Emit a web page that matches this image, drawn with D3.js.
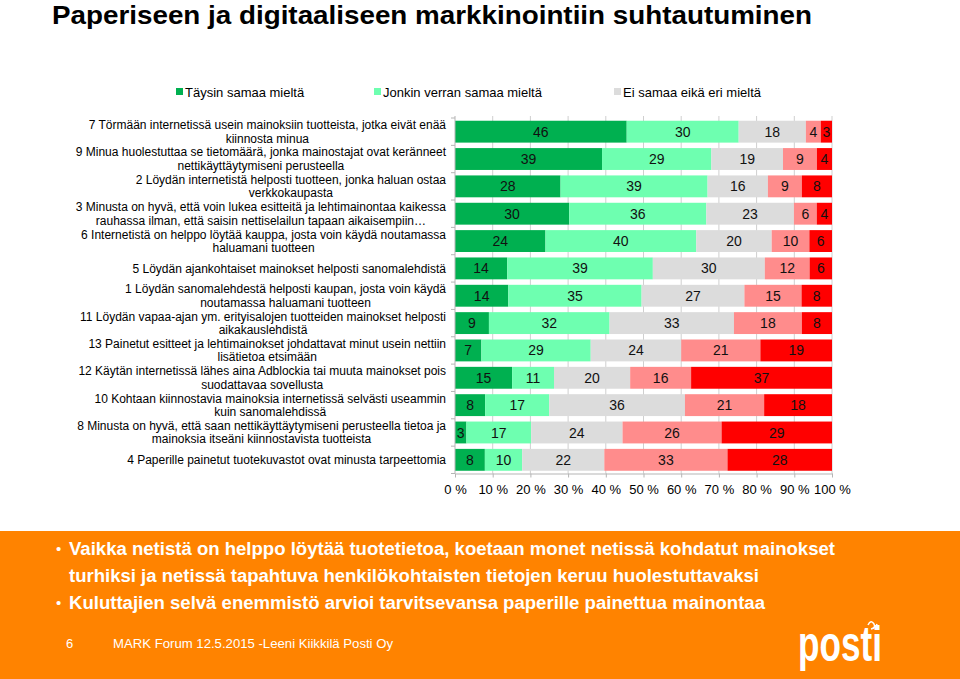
<!DOCTYPE html>
<html>
<head>
<meta charset="utf-8">
<script src="https://cdn.jsdelivr.net/npm/d3@7"></script>
<style>
  html, body { margin: 0; padding: 0; background: #fff; }
  svg { display: block; }
  text { font-family: "Liberation Sans", Arial, sans-serif; }
</style>
</head>
<body>
<svg id="chart" width="960" height="679"></svg>
<script>
// ---------- DATA ----------
const categories = [
  "7 Törmään internetissä usein mainoksiin tuotteista, jotka eivät enää|kiinnosta minua",
  "9 Minua huolestuttaa se tietomäärä, jonka mainostajat ovat keränneet|nettikäyttäytymiseni perusteella",
  "2 Löydän internetistä helposti tuotteen, jonka haluan ostaa|verkkokaupasta",
  "3 Minusta on hyvä, että voin lukea esitteitä ja lehtimainontaa kaikessa|rauhassa ilman, että saisin nettiselailun tapaan aikaisempiin…",
  "6 Internetistä on helppo löytää kauppa, josta voin käydä noutamassa|haluamani tuotteen",
  "5 Löydän ajankohtaiset mainokset helposti sanomalehdistä",
  "1 Löydän sanomalehdestä helposti kaupan, josta voin käydä|noutamassa haluamani tuotteen",
  "11 Löydän vapaa-ajan ym. erityisalojen tuotteiden mainokset helposti|aikakauslehdistä",
  "13 Painetut esitteet ja lehtimainokset johdattavat minut usein nettiin|lisätietoa etsimään",
  "12 Käytän internetissä lähes aina Adblockia tai muuta mainokset pois|suodattavaa sovellusta",
  "10 Kohtaan kiinnostavia mainoksia internetissä selvästi useammin|kuin sanomalehdissä",
  "8 Minusta on hyvä, että saan nettikäyttäytymiseni perusteella tietoa ja|mainoksia itseäni kiinnostavista tuotteista",
  "4 Paperille painetut tuotekuvastot ovat minusta tarpeettomia"
];
const seriesNames = ["Täysin samaa mieltä", "Jonkin verran samaa mieltä", "Ei samaa eikä eri mieltä", "Jonkin verran eri mieltä", "Täysin eri mieltä"];
const taysinSamaa   = [46, 39, 28, 30, 24, 14, 14,  9,  7, 15,  8,  3,  8];
const jonkinSamaa   = [30, 29, 39, 36, 40, 39, 35, 32, 29, 11, 17, 17, 10];
const eiSamaaEiEri  = [18, 19, 16, 23, 20, 30, 27, 33, 24, 20, 36, 24, 22];
const jonkinEri     = [ 4,  9,  9,  6, 10, 12, 15, 18, 21, 16, 21, 26, 33];
const taysinEri     = [ 3,  4,  8,  4,  6,  6,  8,  8, 19, 37, 18, 29, 28];
const xTickLabels = ["0 %", "10 %", "20 %", "30 %", "40 %", "50 %", "60 %", "70 %", "80 %", "90 %", "100 %"];
const legendShown = 3;
const titleText = "Paperiseen ja digitaaliseen markkinointiin suhtautuminen";
const bullets = [
  ["Vaikka netistä on helppo löytää tuotetietoa, koetaan monet netissä kohdatut mainokset",
   "turhiksi ja netissä tapahtuva henkilökohtaisten tietojen keruu huolestuttavaksi"],
  ["Kuluttajien selvä enemmistö arvioi tarvitsevansa paperille painettua mainontaa"]
];
const footerPage = "6";
const footerText = "MARK Forum 12.5.2015 -Leeni Kiikkilä Posti Oy";

// ---------- SETUP ----------
const colors = ["#00B050", "#6EFFB0", "#DCDCDC", "#FF8C8C", "#FF0000"];
const seriesArrays = [taysinSamaa, jonkinSamaa, eiSamaaEiEri, jonkinEri, taysinEri];
const rows = categories.map((c, i) => {
  const r = { key: i, label: c };
  seriesNames.forEach((s, j) => r[s] = seriesArrays[j][i]);
  return r;
});

const svg = d3.select("#chart");
const W = 960, H = 679;
const plot = { left: 455, right: 832, top: 118, bottom: 473.5 };

const x = d3.scaleLinear().domain([0, 1]).range([plot.left, plot.right]);
const y = d3.scaleBand().domain(rows.map(r => r.key)).range([plot.top, plot.bottom])
  .paddingInner(0.2).paddingOuter(0.1);

// Title
svg.append("text")
  .attr("x", 52).attr("y", 24)
  .attr("font-size", 26).attr("font-weight", "bold")
  .attr("textLength", 760).attr("lengthAdjust", "spacingAndGlyphs")
  .attr("fill", "#000")
  .text(titleText);

// Legend
const legendX = [176, 374, 614];
seriesNames.slice(0, legendShown).forEach((s, i) => {
  const g = svg.append("g").attr("transform", `translate(${legendX[i]},92)`);
  g.append("rect").attr("x", 0).attr("y", -4).attr("width", 7).attr("height", 7).attr("fill", colors[i]);
  g.append("text").attr("x", 9).attr("y", 0).attr("dy", "0.35em")
    .attr("font-size", 13).attr("fill", "#000").text(s);
});

// Gridlines
const gridTicks = d3.range(0, 11).map(d => d / 10);
svg.append("g").selectAll("line").data(gridTicks.slice(1)).join("line")
  .attr("x1", d => x(d)).attr("x2", d => x(d))
  .attr("y1", plot.top - 2).attr("y2", plot.bottom)
  .attr("stroke", "#CFCFCF").attr("stroke-width", 1);

// Stack
const stack = d3.stack().keys(seriesNames).offset(d3.stackOffsetExpand);
const stacked = stack(rows);

const layers = svg.append("g").selectAll("g").data(stacked).join("g")
  .attr("fill", (d, i) => colors[i]);
layers.selectAll("rect").data(d => d).join("rect")
  .attr("x", d => x(d[0]))
  .attr("width", d => x(d[1]) - x(d[0]))
  .attr("y", d => y(d.data.key))
  .attr("height", y.bandwidth());

// value labels
const labelsG = svg.append("g");
stacked.forEach((layer, i) => {
  labelsG.selectAll(null).data(layer).join("text")
    .attr("x", d => (x(d[0]) + x(d[1])) / 2)
    .attr("y", d => y(d.data.key) + y.bandwidth() / 2)
    .attr("dy", "0.36em")
    .attr("text-anchor", "middle")
    .attr("font-size", 14)
    .attr("fill", "#111")
    .text(d => d.data[layer.key]);
});

// Y axis (left line + ticks at band boundaries)
const yAxisG = svg.append("g");
yAxisG.append("line").attr("x1", plot.left).attr("x2", plot.left)
  .attr("y1", plot.top - 2).attr("y2", plot.bottom).attr("stroke", "#B5B5B5");
const bounds = rows.map(r => y(r.key) - y.step() * y.paddingInner() / 2);
bounds.push(plot.bottom);
yAxisG.selectAll("line.tk").data(bounds).join("line").attr("class", "tk")
  .attr("x1", plot.left - 4).attr("x2", plot.left)
  .attr("y1", d => d).attr("y2", d => d).attr("stroke", "#B5B5B5");

// X axis
const xAxis = d3.axisBottom(x).tickValues(gridTicks)
  .tickFormat((d, i) => xTickLabels[i]).tickSizeOuter(0).tickSizeInner(4);
const xg = svg.append("g").attr("transform", `translate(0,${plot.bottom})`).call(xAxis);
xg.select(".domain").attr("stroke", "#B5B5B5");
xg.selectAll(".tick line").attr("stroke", "#B5B5B5");
xg.selectAll(".tick text").attr("font-size", 13).attr("fill", "#000")
  .attr("font-family", "Liberation Sans, Arial, sans-serif").attr("y", 11);

// Category labels
const catG = svg.append("g");
rows.forEach(r => {
  const lines = r.label.split("|");
  const cy = y(r.key) + y.bandwidth() / 2;
  const lh = 13.5;
  const t = catG.append("text").attr("font-size", 12).attr("fill", "#000");
  const spans = lines.map((ln, k) => t.append("tspan").text(ln));
  const widths = spans.map(s => s.node().getComputedTextLength());
  const maxW = d3.max(widths);
  const cx = 446 - maxW / 2;
  t.attr("text-anchor", "middle");
  spans.forEach((s, k) => {
    s.attr("x", cx).attr("y", cy + (k - (lines.length - 1) / 2) * lh).attr("dy", "0.35em");
  });
});

// Orange banner
svg.append("rect").attr("x", 0).attr("y", 531).attr("width", W).attr("height", H - 531)
  .attr("fill", "#FF8300");

const bulletLines = [
  { bullet: true, text: bullets[0][0], y: 549, len: 766 },
  { bullet: false, text: bullets[0][1], y: 576, len: 690 },
  { bullet: true, text: bullets[1][0], y: 603, len: 696 }
];
bulletLines.forEach(b => {
  if (b.bullet) {
    svg.append("text").attr("x", 56).attr("y", b.y).attr("dy", "0.35em")
      .attr("font-size", 15).attr("fill", "#fff").text("•");
  }
  svg.append("text").attr("x", 69).attr("y", b.y).attr("dy", "0.35em")
    .attr("font-size", 17.5).attr("font-weight", "bold").attr("fill", "#fff")
    .attr("textLength", b.len).attr("lengthAdjust", "spacingAndGlyphs")
    .text(b.text);
});

// Footer
svg.append("text").attr("x", 66).attr("y", 643).attr("dy", "0.35em")
  .attr("font-size", 13).attr("fill", "#fff").text(footerPage);
svg.append("text").attr("x", 113).attr("y", 643).attr("dy", "0.35em")
  .attr("font-size", 13).attr("fill", "#fff")
  .attr("textLength", 280).attr("lengthAdjust", "spacingAndGlyphs")
  .text(footerText);

// Posti logo (approximation)
svg.append("text").attr("x", 798).attr("y", 661)
  .attr("font-size", 50).attr("font-weight", "bold").attr("fill", "#fff")
  .attr("font-family", "DejaVu Sans, sans-serif")
  .attr("textLength", 84).attr("lengthAdjust", "spacingAndGlyphs")
  .text("posti");
svg.append("path")
  .attr("d", "M868,625 q3,-6 6,-1 q2,4 -3,5 q5,-1 6,-5")
  .attr("fill", "none").attr("stroke", "#fff").attr("stroke-width", 1.5);
</script>
</body>
</html>
